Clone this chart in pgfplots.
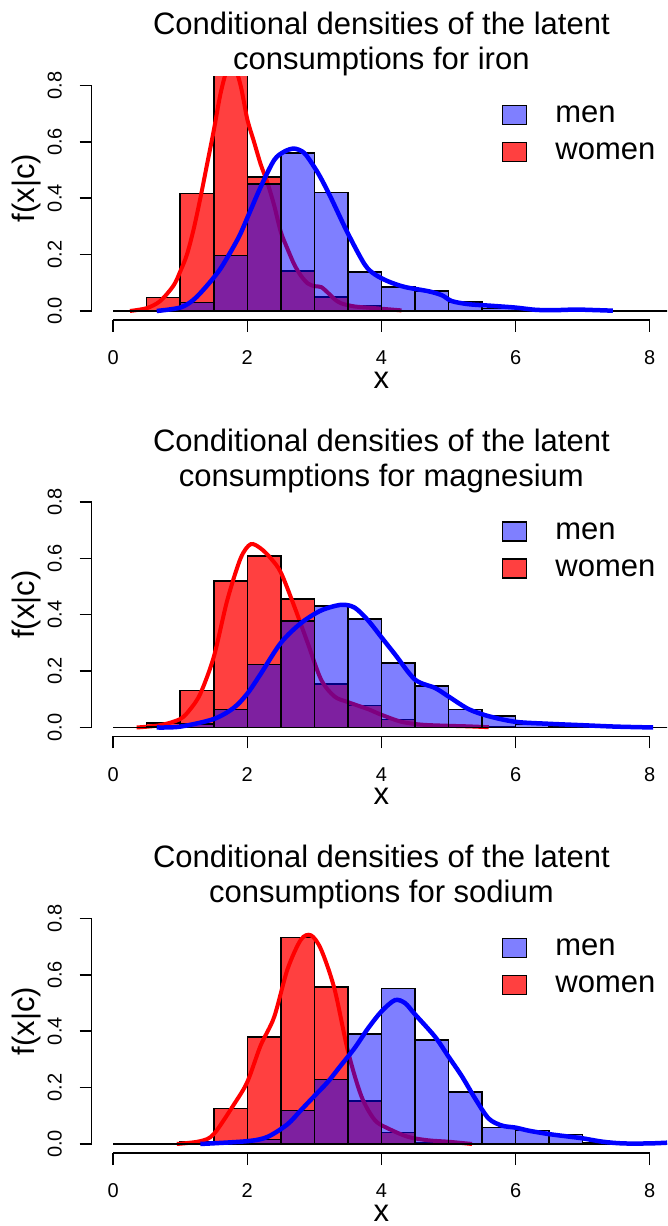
\documentclass[border=0pt]{standalone}
\usepackage{pgfplots}
\pgfplotsset{compat=1.18}
\usepackage{fontspec}
\setmainfont{Liberation Sans}
\newcommand{\bigf}{\fontsize{31}{35}\selectfont}
\newcommand{\tickf}{\fontsize{20}{24}\selectfont}
\pgfplotsset{
  panel/.style={
    scale only axis, width=575.3pt, height=243.6pt,
    xmin=-0.32, xmax=8.258, ymin=-0.032, ymax=0.832,
    clip mode=individual,
    axis x line*=bottom, axis y line*=left, axis line style={draw=none},
    xtick={0,2,4,6,8}, ytick={0,0.2,0.4,0.6,0.8},
    yticklabels={0.0,0.2,0.4,0.6,0.8},
    /pgf/number format/assume math mode=true,
    tick align=outside, major tick length=12pt,
    tick style={black, line width=1.5pt},
    tick label style={font=\tickf, inner sep=0pt},
    xticklabel style={font=\tickf, inner sep=0pt, anchor=base, yshift=-32.9pt},
    yticklabel style={font=\tickf, inner sep=0pt, xshift=-18.1pt, rotate=90, anchor=base},
    every axis x label/.style={at={(rel axis cs:0.5036,0)}, anchor=base, yshift=-68.5pt, font=\bigf, inner sep=0pt},
    every axis y label/.style={at={(rel axis cs:0,0.541)}, xshift=-64.7pt, rotate=90, anchor=center, font=\bigf, inner sep=0pt},
    xlabel={x}, ylabel={f(x|c)},
    title style={font=\bigf, align=center, at={(rel axis cs:0.5036,1)}, anchor=south, yshift=-6pt, inner sep=0pt},
    legend style={at={(rel axis cs:0.713,0.883)}, anchor=north west, draw=none, fill=none,
      inner sep=0pt, outer sep=0pt, font=\bigf, row sep=16.5pt, column sep=28pt,
      nodes={inner sep=0pt}},
    legend cell align=left,
    legend image code/.code={\draw[#1, line width=1.5pt] (0pt,-9.5pt) rectangle (24pt,9.5pt);},
  },
  menhist/.style={ybar interval, fill=blue, fill opacity=0.5, draw=black, line width=1.5pt, forget plot},
  womenhist/.style={ybar interval, fill=red, fill opacity=0.75, draw=black, line width=1.5pt, forget plot},
  mencurve/.style={blue, line width=4.5pt, smooth, no marks, forget plot},
  womencurve/.style={red, line width=4pt, smooth, no marks, forget plot},
}
\newcommand{\axislines}{%
  \draw[black, line width=1.5pt] (axis cs:0,-0.032) -- (axis cs:8,-0.032);
  \draw[black, line width=1.5pt] (axis cs:-0.32,0) -- (axis cs:-0.32,0.8);
}
\begin{document}
\begin{tikzpicture}[x=1pt,y=1pt]
\useasboundingbox (0,0) rectangle (667,1226);
% ---------------- iron
\begin{axis}[panel, at={(91.7pt,906pt)}, anchor=south west,
  title={Conditional densities of the latent\\consumptions for iron}]
\addlegendimage{fill=blue, fill opacity=0.5, draw=black}
\addlegendimage{fill=red, fill opacity=0.75, draw=black}
\addplot[womenhist] coordinates {(0,0) (0.5,0.047) (1.0,0.417) (1.5,0.85) (2.0,0.476) (2.5,0.142) (3.0,0.05) (3.5,0.018) (4.0,0.002) (4.5,0)};
\addplot[womencurve] coordinates {(0.25,0) (0.5,0.01) (0.7,0.035) (0.9,0.09) (1.0,0.14) (1.1,0.2) (1.2,0.29) (1.3,0.4) (1.4,0.52) (1.5,0.64) (1.6,0.77) (1.7,0.86) (1.78,0.89) (1.9,0.8) (2.0,0.68) (2.1,0.6) (2.2,0.52) (2.3,0.455) (2.4,0.375) (2.5,0.28) (2.6,0.22) (2.7,0.165) (2.8,0.125) (2.9,0.098) (3.0,0.088) (3.1,0.085) (3.2,0.065) (3.3,0.042) (3.4,0.027) (3.6,0.016) (3.9,0.01) (4.3,0.002)};
\addplot[menhist] coordinates {(0,0) (0.5,0) (1.0,0.03) (1.5,0.196) (2.0,0.45) (2.5,0.56) (3.0,0.42) (3.5,0.139) (4.0,0.085) (4.5,0.071) (5.0,0.032) (5.5,0.008) (6.0,0.004) (6.5,0.002) (7.0,0.002) (7.5,0) (8.0,0) (8.5,0)};
\addplot[mencurve] coordinates {(0.65,0) (1.0,0.012) (1.2,0.04) (1.4,0.09) (1.6,0.15) (1.8,0.23) (1.9,0.275) (2.0,0.33) (2.2,0.44) (2.4,0.535) (2.55,0.565) (2.7,0.576) (2.85,0.56) (3.0,0.51) (3.1,0.47) (3.25,0.4) (3.5,0.275) (3.75,0.165) (3.9,0.13) (4.1,0.105) (4.35,0.085) (4.7,0.07) (4.9,0.056) (5.05,0.035) (5.3,0.024) (5.6,0.019) (6.0,0.012) (6.3,0.004) (6.6,0.003) (6.9,0.005) (7.2,0.003) (7.45,0.001)};
\axislines
\legend{men,women}
\end{axis}
% ---------------- magnesium
\begin{axis}[panel, at={(91.7pt,489.5pt)}, anchor=south west,
  title={Conditional densities of the latent\\consumptions for magnesium}]
\addlegendimage{fill=blue, fill opacity=0.5, draw=black}
\addlegendimage{fill=red, fill opacity=0.75, draw=black}
\addplot[womenhist] coordinates {(0,0) (0.5,0.016) (1.0,0.132) (1.5,0.52) (2.0,0.608) (2.5,0.455) (3.0,0.155) (3.5,0.078) (4.0,0.028) (4.5,0.008) (5.0,0.004) (5.5,0.001) (6.0,0)};
\addplot[womencurve] coordinates {(0.35,0) (0.7,0.008) (1.0,0.03) (1.15,0.065) (1.3,0.12) (1.5,0.25) (1.7,0.45) (1.9,0.6) (2.05,0.65) (2.2,0.635) (2.35,0.6) (2.5,0.55) (2.7,0.43) (2.9,0.3) (3.1,0.17) (3.3,0.11) (3.5,0.09) (3.8,0.065) (4.0,0.045) (4.3,0.02) (4.6,0.01) (5.0,0.006) (5.3,0.004) (5.6,0.001)};
\addplot[menhist] coordinates {(0,0) (0.5,0.003) (1.0,0.012) (1.5,0.064) (2.0,0.224) (2.5,0.377) (3.0,0.43) (3.5,0.385) (4.0,0.229) (4.5,0.147) (5.0,0.064) (5.5,0.041) (6.0,0.012) (6.5,0.006) (7.0,0.003) (7.5,0.002) (8.0,0) (8.5,0)};
\addplot[mencurve] coordinates {(0.65,0) (1.0,0.003) (1.5,0.03) (1.8,0.07) (2.0,0.12) (2.2,0.19) (2.5,0.3) (2.8,0.37) (3.1,0.415) (3.4,0.435) (3.6,0.425) (3.8,0.38) (4.0,0.32) (4.2,0.26) (4.5,0.17) (4.8,0.14) (5.0,0.11) (5.3,0.065) (5.6,0.04) (6.0,0.02) (6.5,0.013) (7.0,0.008) (7.5,0.003) (8.05,0)};
\axislines
\legend{men,women}
\end{axis}
% ---------------- sodium
\begin{axis}[panel, at={(91.7pt,73pt)}, anchor=south west,
  title={Conditional densities of the latent\\consumptions for sodium}]
\addlegendimage{fill=blue, fill opacity=0.5, draw=black}
\addlegendimage{fill=red, fill opacity=0.75, draw=black}
\addplot[womenhist] coordinates {(0,0) (0.5,0) (1.0,0.008) (1.5,0.125) (2.0,0.38) (2.5,0.733) (3.0,0.557) (3.5,0.152) (4.0,0.041) (4.5,0.004) (5.0,0) (5.5,0)};
\addplot[womencurve] coordinates {(0.95,0) (1.3,0.01) (1.5,0.035) (1.8,0.14) (2.0,0.22) (2.2,0.35) (2.4,0.45) (2.6,0.62) (2.8,0.725) (2.95,0.74) (3.1,0.69) (3.3,0.55) (3.5,0.33) (3.7,0.17) (3.9,0.085) (4.1,0.055) (4.4,0.025) (4.7,0.013) (5.0,0.008) (5.35,0)};
\addplot[menhist] coordinates {(0,0) (0.5,0) (1.0,0) (1.5,0) (2.0,0.016) (2.5,0.118) (3.0,0.229) (3.5,0.39) (4.0,0.552) (4.5,0.369) (5.0,0.184) (5.5,0.059) (6.0,0.047) (6.5,0.033) (7.0,0.003) (7.5,0) (8.0,0) (8.5,0)};
\addplot[mencurve] coordinates {(1.3,0) (2.0,0.01) (2.3,0.025) (2.6,0.07) (2.8,0.12) (3.0,0.17) (3.2,0.22) (3.4,0.28) (3.6,0.34) (3.8,0.41) (4.0,0.47) (4.2,0.51) (4.35,0.5) (4.5,0.46) (4.8,0.38) (5.0,0.31) (5.2,0.24) (5.4,0.16) (5.6,0.09) (5.8,0.065) (6.0,0.058) (6.2,0.047) (6.5,0.035) (6.8,0.026) (7.0,0.02) (7.3,0.008) (7.6,0.002) (8.0,0.002) (8.3,0.005)};
\axislines
\legend{men,women}
\end{axis}
\end{tikzpicture}
\end{document}
